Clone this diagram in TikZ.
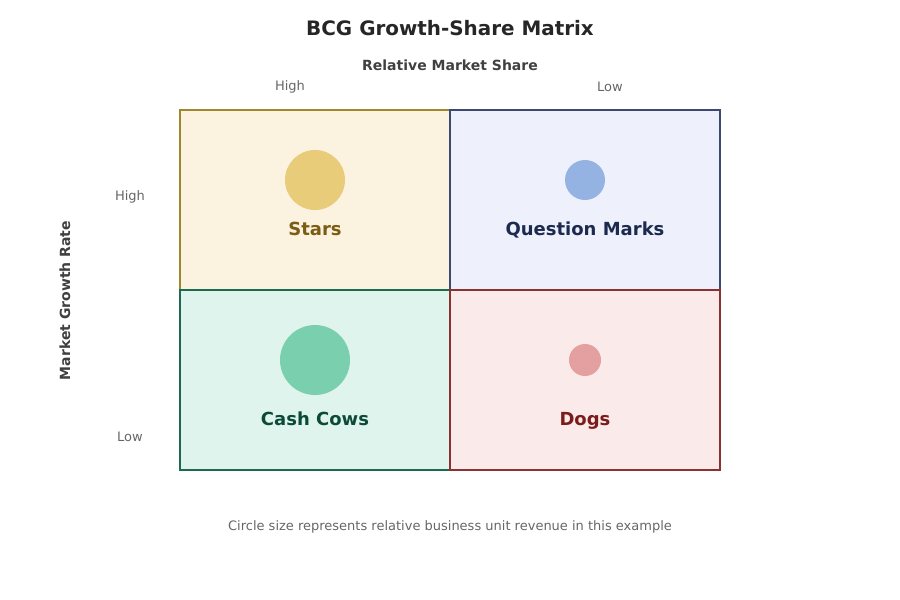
\documentclass[tikz,border=0pt]{standalone}
\usepackage{fontspec}
\setmainfont{DejaVu Sans}
\usepackage{tikz}
\usetikzlibrary{positioning}

\definecolor{starfill}{HTML}{FCF2E0}
\definecolor{stardraw}{HTML}{A0862E}
\definecolor{starball}{HTML}{E8CC7A}
\definecolor{startext}{HTML}{7A5C12}
\definecolor{qmfill}{HTML}{EEF0FB}
\definecolor{qmdraw}{HTML}{3C4A72}
\definecolor{qmball}{HTML}{94B2E2}
\definecolor{qmtext}{HTML}{1C2A4E}
\definecolor{cowfill}{HTML}{E0F4EE}
\definecolor{cowdraw}{HTML}{1C6A50}
\definecolor{cowball}{HTML}{7AD0AE}
\definecolor{cowtext}{HTML}{0C4A38}
\definecolor{dogfill}{HTML}{FBEAEA}
\definecolor{dogdraw}{HTML}{8A3232}
\definecolor{dogball}{HTML}{E4A0A0}
\definecolor{dogtext}{HTML}{7A1C1C}

\tikzset{quad/.style={rectangle,line width=1.5pt,minimum width=270pt,minimum height=180pt,inner sep=0pt}}
\tikzset{ball/.style={circle,inner sep=0pt}}
\tikzset{qlabel/.style={anchor=base,font=\fontsize{18}{20}\bfseries\selectfont}}
\tikzset{axlabel/.style={font=\fontsize{14}{16}\bfseries\selectfont,text=black!75}}
\tikzset{tick/.style={font=\fontsize{13}{15}\selectfont,text=black!60}}

\begin{document}
\begin{tikzpicture}[x=1pt,y=-1pt]
\useasboundingbox (0,0) rectangle (900,600);

\node[font=\fontsize{19.9}{24}\bfseries\selectfont,text=black!85] (title) at (450,28) {BCG Growth-Share Matrix};
\node[axlabel] (share) at (450,65) {Relative Market Share};
\node[tick] (shareHi) at (290,87) {High};
\node[tick] (shareLo) at (610,87) {Low};
\node[axlabel,rotate=90] (growth) at (65,300.5) {Market Growth Rate};
\node[tick] (growthHi) at (130,197) {High};
\node[tick] (growthLo) at (130,437) {Low};

\node[quad,fill=starfill,draw=stardraw] (Stars) at (315,200) {};
\node[quad,fill=qmfill,draw=qmdraw] (QM) at (585,200) {};
\node[quad,fill=cowfill,draw=cowdraw] (Cows) at (315,380) {};
\node[quad,fill=dogfill,draw=dogdraw] (Dogs) at (585,380) {};

\node[ball,fill=starball,minimum size=60pt] (Sb) at (315,180) {};
\node[ball,fill=qmball,minimum size=40pt] (Qb) at (585,180) {};
\node[ball,fill=cowball,minimum size=70pt] (Cb) at (315,360) {};
\node[ball,fill=dogball,minimum size=32pt] (Db) at (585,360) {};

\node[qlabel,text=startext] (St) at (315,235.6) {Stars};
\node[qlabel,text=qmtext] (Qt) at (585,235.6) {Question Marks};
\node[qlabel,text=cowtext] (Ct) at (315,425.6) {Cash Cows};
\node[qlabel,text=dogtext] (Dt) at (585,425.6) {Dogs};

\node[tick] (note) at (450,527) {Circle size represents relative business unit revenue in this example};

\end{tikzpicture}
\end{document}
